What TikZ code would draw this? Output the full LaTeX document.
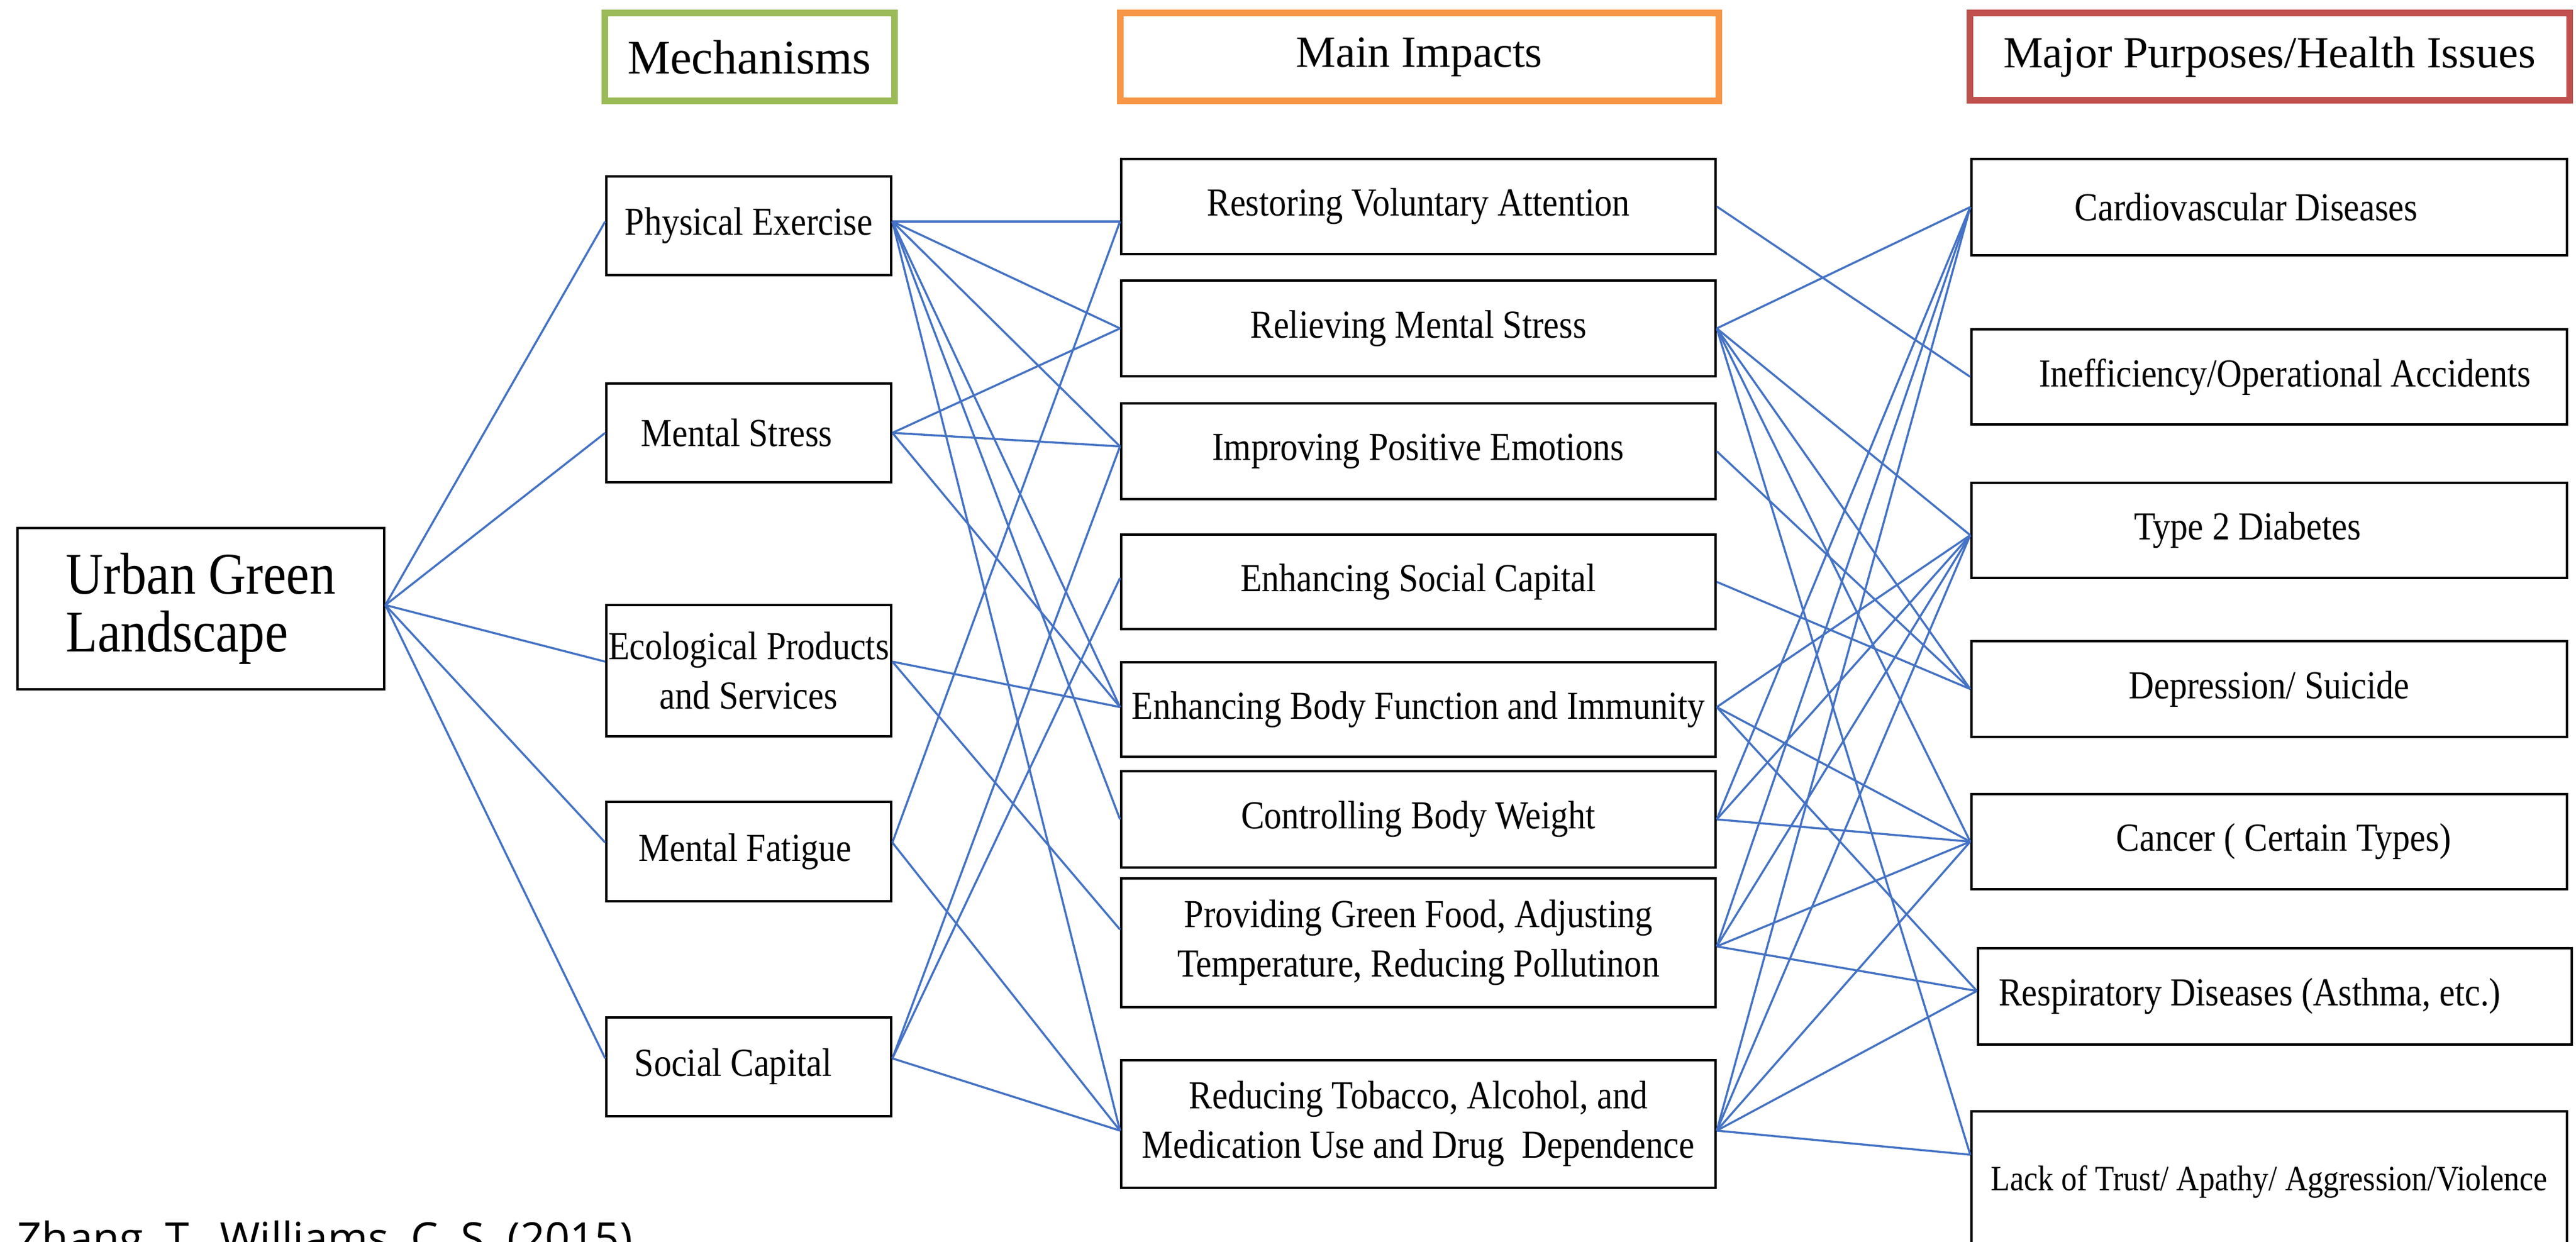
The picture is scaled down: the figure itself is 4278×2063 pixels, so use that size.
\documentclass[tikz,border=0pt]{standalone}
\usepackage{fontspec}
\setmainfont{Liberation Serif}
\newfontfamily\condf{Liberation Serif}[FakeStretch=0.88]
\newfontfamily\citef{Open Sans}
\definecolor{linkblue}{HTML}{4472C4}
\definecolor{hgreen}{HTML}{9BBB59}
\definecolor{horange}{HTML}{F79646}
\definecolor{hred}{HTML}{C0504D}
\begin{document}
\begin{tikzpicture}[x=0.25pt,y=-0.25pt,
  box/.style={draw=black, line width=1pt, inner sep=0pt, align=center,
    font=\condf\fontsize{16.5pt}{20.5pt}\selectfont},
  mech/.style={box, minimum width=118.25pt},
  imp/.style={box, minimum width=246.75pt},
  hlth/.style={box, minimum width=247.25pt},
  hdr/.style={draw, line width=2.75pt, inner sep=0pt, font=\fontsize{19pt}{23pt}\selectfont},
  link/.style={draw=linkblue, line width=0.85pt}]
\fill[white] (0,0) rectangle (4278,2063);
\useasboundingbox (0,0) rectangle (4278,2063);

% root
\node[box, minimum width=152.25pt, minimum height=67pt, align=left,
  font=\condf\fontsize{24.5pt}{24pt}\selectfont] (ug) at (333.5,1011) {Urban Green\\Landscape};

% headers
\node[hdr, draw=hgreen, minimum width=120.25pt, minimum height=36.5pt, font=\fontsize{20pt}{24pt}\selectfont] (hm) at (1244.5,95) {Mechanisms};
\node[hdr, draw=horange, minimum width=248.5pt, minimum height=36.5pt, font=\fontsize{18.5pt}{23pt}\selectfont] (hi) at (2357,95) {Main Impacts};
\node[hdr, draw=hred, minimum width=249pt, minimum height=36.25pt, font=\fontsize{18.5pt}{23pt}\selectfont] (hh) at (3769,94.5) {Major Purposes/Health Issues};

% mechanisms
\node[mech, minimum height=41pt] (pe) at (1243.5,375) {Physical Exercise};
\node[mech, minimum height=41pt] (ms) at (1243.5,719) {Mental Stress\hspace*{10pt}};
\node[mech, minimum height=54.5pt] (ep) at (1243.5,1114) {Ecological Products\\and Services};
\node[mech, minimum height=41.25pt] (mf) at (1243.5,1414.5) {Mental Fatigue\hspace*{3pt}};
\node[mech, minimum height=41pt] (sc) at (1243.5,1772) {Social Capital\hspace*{13pt}};

% impacts
\node[imp, minimum height=39.5pt] (rva) at (2355.5,343) {Restoring Voluntary Attention};
\node[imp, minimum height=39.75pt] (rms) at (2355.5,545.5) {Relieving Mental Stress};
\node[imp, minimum height=39.75pt] (ipe) at (2355.5,749.5) {Improving Positive Emotions};
\node[imp, minimum height=39.25pt] (esc) at (2355.5,966.5) {Enhancing Social Capital};
\node[imp, minimum height=39.25pt] (ebf) at (2355.5,1178.5) {Enhancing Body Function and Immunity};
\node[imp, minimum height=40pt] (cbw) at (2355.5,1361) {Controlling Body Weight};
\node[imp, minimum height=53.5pt] (pgf) at (2355.5,1566) {Providing Green Food, Adjusting\\Temperature, Reducing Pollutinon};
\node[imp, minimum height=53pt] (rta) at (2355.5,1867) {Reducing Tobacco, Alcohol, and\\Medication Use and Drug\ \ Dependence};

% health issues
\node[hlth, minimum height=40pt] (cvd) at (3768.5,344) {Cardiovascular Diseases\hspace*{19pt}};
\node[hlth, minimum height=39.5pt] (ioa) at (3768.5,626) {\hspace*{13pt}Inefficiency/Operational Accidents};
\node[hlth, minimum height=39.5pt] (t2d) at (3768.5,881) {Type 2 Diabetes\hspace*{18pt}};
\node[hlth, minimum height=39.75pt] (dep) at (3768.5,1144.5) {Depression/ Suicide};
\node[hlth, minimum height=39.5pt] (can) at (3768.5,1398) {\hspace*{12pt}Cancer ( Certain Types)};
\node[box, minimum width=246.5pt, minimum height=40pt] (res) at (3778,1655) {Respiratory Diseases (Asthma, etc.)\hspace*{21pt}};
\node[hlth, minimum height=58.5pt, font=\condf\fontsize{14.75pt}{18pt}\selectfont] (lot) at (3768.5,1963) {Lack of Trust/ Apathy/ Aggression/Violence};

% citation
\node[anchor=base west, inner sep=0pt, font=\citef\fontsize{18pt}{22pt}\selectfont] (cite) at (28,2082) {Zhang, T., Williams, C. S. (2015)};

% root -> mechanisms
\foreach \m/\s in {pe/1.75pt, ms/0pt, ep/3.75pt, mf/3.75pt, sc/3.5pt}
  \draw[link] ([yshift=1.5pt]ug.east) -- ([yshift=\s]\m.west);

% mechanisms -> impacts
\draw[link] ([yshift=1.75pt]pe.east) -- ([yshift=-6.25pt]rva.west);
\draw[link] ([yshift=1.75pt]pe.east) -- (rms.west);
\draw[link] ([yshift=1.75pt]pe.east) -- ([yshift=2pt]ipe.west);
\draw[link] ([yshift=1.75pt]pe.east) -- ([yshift=1pt]ebf.west);
\draw[link] ([yshift=1.75pt]pe.east) -- (cbw.west);
\draw[link] ([yshift=1.75pt]pe.east) -- ([yshift=-2.75pt]rta.west);
\draw[link] (ms.east) -- (rms.west);
\draw[link] (ms.east) -- ([yshift=2pt]ipe.west);
\draw[link] (ms.east) -- ([yshift=1pt]ebf.west);
\draw[link] ([yshift=3.75pt]ep.east) -- ([yshift=1pt]ebf.west);
\draw[link] ([yshift=3.75pt]ep.east) -- ([yshift=5.5pt]pgf.west);
\draw[link] ([yshift=3.75pt]mf.east) -- ([yshift=-6.25pt]rva.west);
\draw[link] ([yshift=3.75pt]mf.east) -- ([yshift=-2.75pt]rta.west);
\draw[link] ([yshift=3.5pt]sc.east) -- ([yshift=2pt]ipe.west);
\draw[link] ([yshift=3.5pt]sc.east) -- ([yshift=1.6pt]esc.west);
\draw[link] ([yshift=3.5pt]sc.east) -- ([yshift=-2.75pt]rta.west);

% impacts -> health issues
\draw[link] (rva.east) -- (ioa.west);
\foreach \h/\s in {cvd/0pt, t2d/-2pt, dep/0pt, can/0pt, lot/11.25pt}
  \draw[link] (rms.east) -- ([yshift=\s]\h.west);
\draw[link] (ipe.east) -- (dep.west);
\draw[link] (esc.east) -- (dep.west);
\draw[link] ([yshift=1pt]ebf.east) -- ([yshift=-2pt]t2d.west);
\draw[link] ([yshift=1pt]ebf.east) -- (can.west);
\draw[link] ([yshift=1pt]ebf.east) -- ([yshift=2.25pt]res.west);
\draw[link] (cbw.east) -- ([yshift=-2pt]t2d.west);
\draw[link] (cbw.east) -- (can.west);
\draw[link] (cbw.east) -- (cvd.west);
\foreach \h/\s in {cvd/0pt, t2d/-2pt, can/0pt}
  \draw[link] ([yshift=-1.5pt]pgf.east) -- ([yshift=\s]\h.west);
\draw[link] ([yshift=-1.5pt]pgf.east) -- ([yshift=2.25pt]res.west);
\foreach \h/\s in {cvd/0pt, t2d/-2pt, can/0pt, lot/11.25pt}
  \draw[link] ([yshift=-2.75pt]rta.east) -- ([yshift=\s]\h.west);
\draw[link] ([yshift=-2.75pt]rta.east) -- ([yshift=2.25pt]res.west);
\end{tikzpicture}
\end{document}
